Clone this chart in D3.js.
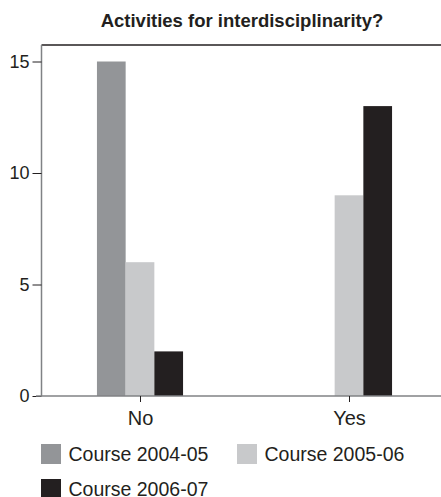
<!DOCTYPE html>
<html><head><meta charset="utf-8">
<script src="https://cdn.jsdelivr.net/npm/d3@7"></script>
<style>body{margin:0;background:#fff}svg{display:block}</style>
</head><body>
<script>
const categories = ["No", "Yes"];
const seriesNames = ["Course 2004-05", "Course 2005-06", "Course 2006-07"];
const course2004 = [15, 0];
const course2005 = [6, 9];
const course2006 = [2, 13];
const yTicks = [0, 5, 10, 15];
const colors = ["#939598", "#c8c9cb", "#231f20"];
const title = "Activities for interdisciplinarity?";

(function () {
const W = 441, H = 497;
const svg = d3.select("body").append("svg").attr("width", W).attr("height", H);
const font = "Helvetica, Arial, 'Liberation Sans', sans-serif";

const pl = 41.5, pr = 441, pt = 45, pb = 396;
const y = d3.scaleLinear().domain([0, 15]).range([pb, 61.5]);
const x = d3.scalePoint().domain(categories).range([140, 349]);
const bw = 28.7;

svg.append("text").attr("x", 242).attr("y", 26.5).attr("text-anchor", "middle")
  .attr("font-family", font).attr("font-size", 18.5).attr("font-weight", "bold").attr("fill", "#231f20")
  .text(title);

svg.append("line").attr("x1", pl).attr("x2", pr).attr("y1", pt).attr("y2", pt)
  .attr("stroke", "#231f20").attr("stroke-width", 1.3);

const series = [course2004, course2005, course2006];
const g = svg.append("g");
series.forEach((vals, si) => {
  g.selectAll(null).data(vals.map((v, i) => ({v, c: categories[i]})).filter(d => d.v > 0))
    .enter().append("rect")
    .attr("x", d => x(d.c) + (si - 1.5) * bw)
    .attr("y", d => y(d.v)).attr("width", bw).attr("height", d => pb - y(d.v))
    .attr("fill", colors[si]);
});

const yAxis = d3.axisLeft(y).tickValues(yTicks).tickSize(9).tickPadding(3);
const ya = svg.append("g").attr("transform", `translate(${pl},0)`).call(yAxis);
ya.select(".domain").attr("d", `M0,${pt}V${pb}`).attr("stroke", "#808285").attr("stroke-width", 1.5);
ya.selectAll(".tick line").attr("stroke", "#231f20").attr("stroke-width", 1);
ya.selectAll(".tick text").attr("font-family", font).attr("font-size", 18).attr("fill", "#231f20");

const xAxis = d3.axisBottom(x).tickSize(6).tickPadding(6);
const xa = svg.append("g").attr("transform", `translate(0,${pb})`).call(xAxis);
xa.select(".domain").attr("d", `M36,0H${pr}`).attr("stroke", "#808285").attr("stroke-width", 1.5);
xa.selectAll(".tick line").attr("stroke", "#231f20").attr("stroke-width", 1);
xa.selectAll(".tick text").attr("font-family", font).attr("font-size", 20).attr("fill", "#231f20")
  .attr("dy", null).attr("y", 29);

const legPos = [[41, 444], [237, 444], [41, 479]];
seriesNames.forEach((n, i) => {
  const [lx, ly] = legPos[i];
  svg.append("rect").attr("x", lx).attr("y", ly).attr("width", 20).attr("height", 20).attr("fill", colors[i]);
  svg.append("text").attr("x", lx + 27.5).attr("y", ly + 16.7).attr("font-family", font).attr("font-size", 19.5)
    .attr("fill", "#231f20").text(n);
});
})();
</script>
</body></html>
